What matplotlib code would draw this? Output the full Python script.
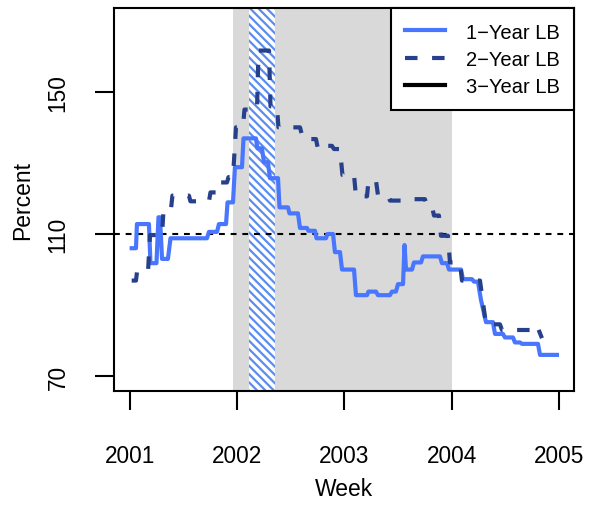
import matplotlib
matplotlib.use('Agg')
import matplotlib.pyplot as plt
from matplotlib.lines import Line2D

plt.rcParams['font.family'] = ['Liberation Sans', 'DejaVu Sans']
plt.rcParams['hatch.linewidth'] = 1.6

# 1-Year LB (weekly, decimal year)
x_1yr = [2001.016, 2001.056, 2001.065, 2001.177, 2001.191, 2001.247, 2001.266, 2001.280,
         2001.299, 2001.354, 2001.378, 2001.718, 2001.737, 2001.812, 2001.830, 2001.896,
         2001.910, 2001.961, 2001.979, 2002.045, 2002.059, 2002.175, 2002.189, 2002.231,
         2002.250, 2002.287, 2002.306, 2002.381, 2002.395, 2002.474, 2002.488, 2002.567,
         2002.586, 2002.651, 2002.665, 2002.726, 2002.740, 2002.828, 2002.842, 2002.894,
         2002.912, 2002.959, 2002.978, 2003.090, 2003.108, 2003.211, 2003.225, 2003.295,
         2003.313, 2003.425, 2003.444, 2003.481, 2003.500, 2003.547, 2003.561, 2003.575,
         2003.631, 2003.649, 2003.715, 2003.733, 2003.892, 2003.910, 2003.957, 2003.976,
         2004.088, 2004.106, 2004.190, 2004.209, 2004.246, 2004.274, 2004.321, 2004.386,
         2004.405, 2004.479, 2004.498, 2004.573, 2004.591, 2004.638, 2004.657, 2004.806,
         2004.825, 2004.983]
y_1yr = [106.0, 106.0, 112.8, 112.8, 101.8, 101.8, 114.7, 114.7,
         103.0, 103.0, 108.8, 108.8, 110.6, 110.6, 112.8, 112.8,
         118.9, 118.9, 128.8, 128.8, 136.9, 136.9, 134.1, 134.1,
         130.2, 130.2, 125.7, 125.7, 117.5, 117.5, 115.8, 115.8,
         111.7, 111.7, 110.9, 110.9, 108.8, 108.8, 110.0, 110.0,
         104.9, 104.9, 100.0, 100.0, 92.8, 92.8, 93.8, 93.8,
         92.8, 92.8, 93.8, 93.8, 95.9, 95.9, 106.9, 100.0,
         100.0, 102.0, 102.0, 103.7, 103.7, 101.8, 101.8, 100.0,
         100.0, 97.3, 97.3, 96.6, 96.6, 91.5, 85.2, 85.2,
         81.9, 81.9, 80.9, 80.9, 79.5, 79.5, 79.1, 79.1,
         76.0, 76.0]

# 2-Year LB
x_2yr = [2001.016, 2001.056, 2001.065, 2001.168, 2001.187, 2001.299, 2001.313, 2001.382,
         2001.396, 2001.550, 2001.564, 2001.737, 2001.751, 2001.812, 2001.821, 2001.905,
         2001.919, 2001.961, 2001.989, 2002.054, 2002.068, 2002.185, 2002.199, 2002.297,
         2002.311, 2002.371, 2002.385, 2002.586, 2002.600, 2002.660, 2002.674, 2002.735,
         2002.754, 2002.810, 2002.824, 2002.884, 2002.903, 2002.959, 2002.982, 2003.090,
         2003.108, 2003.211, 2003.225, 2003.295, 2003.313, 2003.407, 2003.425, 2003.547,
         2003.561, 2003.752, 2003.771, 2003.817, 2003.836, 2003.882, 2003.901, 2003.966,
         2003.985, 2004.078, 2004.097, 2004.265, 2004.321, 2004.451, 2004.470, 2004.731,
         2004.750, 2004.797, 2004.843]
y_2yr = [96.9, 96.9, 99.2, 99.2, 109.7, 109.7, 116.8, 116.8,
         120.8, 120.8, 119.2, 119.2, 121.7, 121.7, 124.5, 124.5,
         126.0, 126.0, 140.0, 140.0, 145.0, 145.0, 161.6, 161.6,
         145.9, 145.9, 140.0, 140.0, 138.4, 138.4, 136.7, 136.7,
         133.9, 133.9, 134.8, 134.8, 133.9, 133.9, 126.6, 126.6,
         120.6, 120.6, 125.0, 125.0, 121.0, 121.0, 119.4, 119.4,
         119.8, 119.8, 117.8, 117.8, 115.2, 115.2, 109.5, 109.5,
         102.0, 102.0, 96.9, 96.9, 84.6, 84.6, 83.0, 83.0,
         84.2, 84.2, 80.7]

gray_span = [2001.964, 2004.0]
hatch_span = [2002.113, 2002.350]
ref_level = 110
x_ticks = [2001, 2002, 2003, 2004, 2005]
y_ticks = [70, 110, 150]
labels = ['1\u2212Year LB', '2\u2212Year LB', '3\u2212Year LB']

c1 = '#4876FF'
c2 = '#27408B'

fig = plt.figure(figsize=(5.94, 5.06), dpi=100)
ax = fig.add_axes([114/594, 1 - 392/506, 460/594, 383/506])

ax.axvspan(gray_span[0], gray_span[1], color='#D9D9D9', lw=0, zorder=0)
ax.axvspan(hatch_span[0], hatch_span[1], facecolor='white', edgecolor='#5B8DEF',
           hatch='\\\\\\\\', lw=0, zorder=1)
ax.axhline(ref_level, color='black', lw=1.5, dashes=(2.8, 2.8), zorder=2)

ax.plot(x_1yr, y_1yr, color=c1, lw=3, zorder=3)
ax.plot(x_2yr, y_2yr, color=c2, lw=3, dashes=(3, 3.5), zorder=4)

ax.set_xlim(2000.851, 2005.142)
ax.set_ylim(65.84, 173.57)
ax.set_xticks(x_ticks)
ax.set_yticks(y_ticks)
ax.tick_params(axis='both', length=14, width=1.5, labelsize=16.3)
ax.tick_params(axis='x', pad=24)
ax.tick_params(axis='y', pad=18)
plt.setp(ax.get_yticklabels(), rotation=90, va='center')
for s in ax.spines.values():
    s.set_linewidth(1.5)

ax.set_xlabel('Week', fontsize=16.5)
ax.set_ylabel('Percent', fontsize=16.5)
ax.xaxis.set_label_coords(0.5, (392 - 490) / 383)
ax.xaxis.label.set_va('center')
ax.yaxis.set_label_coords((23 - 114) / 460, 0.5)
ax.yaxis.label.set_va('center')

handles = [Line2D([], [], color=c1, lw=3),
           Line2D([], [], color=c2, lw=3, dashes=(3, 3.5)),
           Line2D([], [], color='black', lw=3)]
leg = ax.legend(handles, labels, loc='upper right', bbox_to_anchor=(1, 1),
                borderaxespad=0, fancybox=False, framealpha=1, edgecolor='black',
                fontsize=14.5, handlelength=2.0, handletextpad=1.0,
                labelspacing=0.4, borderpad=0.72)
leg.get_frame().set_linewidth(1.5)

fig.savefig('out.png', dpi=100)
